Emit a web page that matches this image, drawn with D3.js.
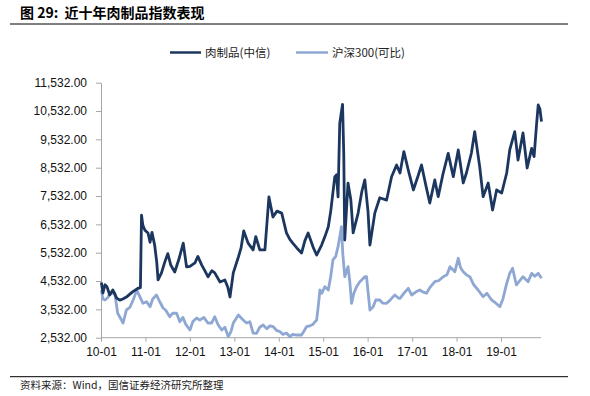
<!DOCTYPE html>
<html>
<head>
<meta charset="utf-8">
<script src="https://cdn.jsdelivr.net/npm/d3@7"></script>
<style>
  html, body { margin: 0; padding: 0; background: #fff; }
  svg { display: block; }
</style>
</head>
<body>
<svg id="chart" width="590" height="396"></svg>
<script>
// ---- data ----
const titleText = "图 29:  近十年肉制品指数表现";
const sourceText = "资料来源：Wind，国信证券经济研究所整理";
const seriesNames = ["肉制品(中信)", "沪深300(可比)"];
const yTickValues = [2532, 3532, 4532, 5532, 6532, 7532, 8532, 9532, 10532, 11532];
const xTickYears = [2010, 2011, 2012, 2013, 2014, 2015, 2016, 2017, 2018, 2019];

const meatDates = [
  "2010-01-04","2010-01-17","2010-02-03","2010-02-19","2010-03-14","2010-04-08","2010-05-10","2010-06-05","2010-06-29","2010-08-02",
  "2010-09-20","2010-10-30","2010-11-21","2010-11-30","2010-12-11","2010-12-27","2011-01-22","2011-02-08","2011-02-24","2011-03-18",
  "2011-04-04","2011-04-15","2011-05-13","2011-06-09","2011-07-04","2011-07-28","2011-08-30","2011-10-03","2011-11-08","2011-12-05",
  "2012-01-02","2012-02-12","2012-03-07","2012-04-07","2012-05-03","2012-05-30","2012-06-30","2012-07-24","2012-09-05","2012-10-15",
  "2012-11-09","2012-11-26","2012-12-23","2013-02-03","2013-02-25","2013-03-19","2013-04-24","2013-06-04","2013-06-26","2013-07-29",
  "2013-09-09","2013-10-12","2013-11-14","2013-12-17","2014-01-25","2014-03-05","2014-04-02","2014-04-26","2014-05-29","2014-07-07",
  "2014-08-03","2014-08-30","2014-10-10","2014-11-08","2014-12-19","2015-01-15","2015-02-12","2015-03-04","2015-04-06","2015-04-20",
  "2015-05-03","2015-05-17","2015-06-09","2015-06-19","2015-06-27","2015-07-24","2015-08-16","2015-09-04","2015-10-15","2015-11-15",
  "2015-12-09","2016-01-04","2016-01-20","2016-02-29","2016-04-10","2016-06-05","2016-07-16","2016-08-26","2016-09-23","2016-10-25",
  "2016-11-30","2016-12-14","2017-01-11","2017-02-21","2017-03-19","2017-04-24","2017-05-26","2017-07-06","2017-08-03","2017-09-11",
  "2017-10-24","2017-12-05","2018-01-15","2018-02-25","2018-03-23","2018-05-03","2018-05-30","2018-07-10","2018-08-07","2018-09-18",
  "2018-10-24","2018-11-26","2019-01-07","2019-02-17","2019-03-14","2019-04-24","2019-05-21","2019-07-01","2019-08-04","2019-09-10",
  "2019-09-30","2019-10-20","2019-11-03","2019-11-17","2019-11-30"
];
const meatValues = [
  4480,4110,4400,4330,4040,4220,3930,3860,3900,3980,
  4160,4270,4300,6860,6500,6330,6230,5900,6250,5800,
  5200,4570,4820,5200,5500,5100,4850,5300,5870,5030,
  5050,5170,5400,5100,4900,4680,4900,4820,4500,4570,
  4300,3970,4820,5380,5700,6300,5870,5630,6100,5630,
  5630,7500,6790,7000,6930,6230,6000,5870,5700,5520,
  5950,6230,5730,5450,5800,6100,6450,7000,8210,8280,
  7500,10100,10770,9000,5980,7990,7400,6230,6930,7700,
  8100,7000,5800,6930,7470,7390,8210,8630,8345,9100,
  8450,8215,7746,8275,8630,7900,7285,8100,7510,8300,
  9040,8215,9157,7994,8345,9050,9804,8570,7510,7994,
  7040,7746,7640,8345,9157,9804,8804,9757,8522,9216,
  8922,10040,10746,10600,10157
];

const hsDates = [
  "2010-01-04","2010-01-17","2010-02-03","2010-02-27","2010-03-14","2010-04-24","2010-05-18","2010-06-13","2010-07-01","2010-07-29",
  "2010-08-26","2010-09-22","2010-10-22","2010-11-17","2010-12-11","2011-01-11","2011-02-08","2011-03-02","2011-04-02","2011-04-29",
  "2011-05-26","2011-06-17","2011-07-20","2011-08-14","2011-09-14","2011-10-11","2011-11-05","2011-11-29","2012-01-02","2012-01-26",
  "2012-02-26","2012-03-23","2012-04-25","2012-05-28","2012-06-28","2012-07-24","2012-08-19","2012-09-19","2012-10-15","2012-11-12",
  "2012-12-04","2012-12-23","2013-02-03","2013-03-14","2013-04-11","2013-05-08","2013-06-04","2013-07-02","2013-07-29","2013-08-25",
  "2013-09-25","2013-10-20","2013-11-16","2013-12-17","2014-01-11","2014-02-05","2014-03-05","2014-04-02","2014-04-26","2014-05-26",
  "2014-07-07","2014-07-25","2014-08-17","2014-09-14","2014-10-08","2014-11-08","2014-11-23","2014-12-05","2014-12-21","2015-01-15",
  "2015-02-12","2015-03-04","2015-03-22","2015-04-14","2015-05-03","2015-05-31","2015-06-11","2015-06-27","2015-07-24","2015-08-08",
  "2015-08-22","2015-09-10","2015-10-02","2015-10-29","2015-11-13","2015-12-09","2015-12-23","2016-01-06","2016-01-20","2016-02-16",
  "2016-03-08","2016-04-10","2016-05-05","2016-06-05","2016-07-02","2016-07-29","2016-08-12","2016-09-09","2016-09-23","2016-10-25",
  "2016-11-30","2016-12-28","2017-02-02","2017-03-05","2017-03-29","2017-04-29","2017-05-26","2017-07-06","2017-08-09","2017-09-13",
  "2017-10-14","2017-11-08","2017-12-18","2018-01-15","2018-02-03","2018-02-25","2018-03-23","2018-04-20","2018-05-22","2018-06-27",
  "2018-08-07","2018-09-07","2018-10-16","2018-11-20","2018-12-23","2019-01-17","2019-02-17","2019-03-14","2019-04-06","2019-05-08",
  "2019-06-05","2019-07-01","2019-08-12","2019-09-10","2019-10-06","2019-11-03","2019-11-30"
];
const hsValues = [
  4210,3900,3863,3950,4100,4100,3395,3200,3050,3511,
  3600,3863,4210,3970,3750,3803,3627,3900,4039,3800,
  3580,3500,3273,3400,3395,3097,3250,3000,2804,3100,
  3227,3150,3250,3050,3050,3273,3000,2804,2900,2567,
  2750,3050,3333,3157,3050,3097,2698,2687,2900,2980,
  2850,2950,2920,2780,2744,2650,2698,2567,2650,2627,
  2627,2750,2920,2950,3000,3157,3700,4216,4100,4332,
  4216,4700,5275,5400,5744,6450,5500,4685,5038,4500,
  3744,4100,4332,4509,4569,4685,4685,4099,3510,3627,
  3863,3863,3750,3745,3850,3980,4039,3933,3922,4100,
  4274,4039,4150,4216,4150,4099,4300,4509,4550,4685,
  4750,5038,4862,5335,5000,4862,4750,4685,4400,4216,
  3980,4100,3863,3750,3627,3900,4450,4800,4981,4392,
  4550,4685,4509,4803,4700,4803,4627
];

// ---- drawing ----
const svg = d3.select("#chart");
const parse = d3.timeParse("%Y-%m-%d");
const meat = meatDates.map((d, i) => ({ date: parse(d), value: meatValues[i] }));
const hs = hsDates.map((d, i) => ({ date: parse(d), value: hsValues[i] }));

const plotLeft = 101, plotBottom = 337.7, plotTop = 82.7;
const x = d3.scaleTime()
  .domain([new Date(2010, 0, 1), new Date(2020, 0, 1)])
  .range([plotLeft, plotLeft + 444.4]);
const y = d3.scaleLinear().domain([2532, 11532]).range([plotBottom, plotTop]);

const cjk = "'Noto Sans CJK SC', 'Noto Sans', sans-serif";
const latin = "'Liberation Sans', Arial, sans-serif";
const darkColor = "#1c375f";
const lightColor = "#8ea7d3";

// title
svg.append("text").attr("x", 20).attr("y", 17.5)
  .attr("font-family", cjk).attr("font-weight", "bold").attr("font-size", 14)
  .attr("fill", "#000").attr("xml:space", "preserve").style("white-space", "pre").text(titleText);
svg.append("line").attr("x1", 10).attr("x2", 568).attr("y1", 24).attr("y2", 24)
  .attr("stroke", "#000").attr("stroke-width", 1);

// legend
const legend = [
  { name: seriesNames[0], color: darkColor, x1: 170, x2: 201, tx: 205 },
  { name: seriesNames[1], color: lightColor, x1: 296, x2: 328, tx: 332 }
];
legend.forEach(l => {
  svg.append("line").attr("x1", l.x1).attr("x2", l.x2).attr("y1", 52.5).attr("y2", 52.5)
    .attr("stroke", l.color).attr("stroke-width", 2.5);
  svg.append("text").attr("x", l.tx).attr("y", 56.5)
    .attr("font-family", cjk).attr("font-size", 11.5).attr("fill", "#222").text(l.name);
});

// y axis
const yAxis = d3.axisLeft(y).tickValues(yTickValues).tickFormat(d3.format(",.2f")).tickSize(5).tickSizeOuter(0);
const gy = svg.append("g").attr("transform", `translate(${plotLeft},0)`).call(yAxis);
gy.select(".domain").attr("stroke", "#a6a6a6");
gy.selectAll(".tick line").attr("stroke", "#a6a6a6");
gy.selectAll(".tick text").attr("font-family", latin).attr("font-size", 12).attr("fill", "#111").attr("x", -14);

// x axis
const xAxis = d3.axisBottom(x)
  .tickValues(xTickYears.map(yr => new Date(yr, 0, 1)))
  .tickFormat(d3.timeFormat("%y-%m")).tickSize(4).tickSizeOuter(0);
const gx = svg.append("g").attr("transform", `translate(0,${plotBottom})`).call(xAxis);
gx.select(".domain").remove();
gx.append("line").attr("x1", plotLeft).attr("x2", 541).attr("y1", 0).attr("y2", 0).attr("stroke", "#a6a6a6");
gx.selectAll(".tick line").attr("stroke", "#a6a6a6");
gx.selectAll(".tick text").attr("font-family", latin).attr("font-size", 12).attr("fill", "#111").attr("dy", "0.95em");

// lines
const line = d3.line().x(d => x(d.date)).y(d => y(d.value)).curve(d3.curveLinear);
svg.append("path").datum(hs).attr("d", line)
  .attr("fill", "none").attr("stroke", lightColor).attr("stroke-width", 2.8).attr("stroke-linejoin", "round");
svg.append("path").datum(meat).attr("d", line)
  .attr("fill", "none").attr("stroke", darkColor).attr("stroke-width", 2.8).attr("stroke-linejoin", "round");

// footer
svg.append("line").attr("x1", 10).attr("x2", 568).attr("y1", 376.7).attr("y2", 376.7)
  .attr("stroke", "#000").attr("stroke-width", 1);
svg.append("text").attr("x", 20).attr("y", 389)
  .attr("font-family", cjk).attr("font-size", 10.5).attr("fill", "#222").text(sourceText);
</script>
</body>
</html>
